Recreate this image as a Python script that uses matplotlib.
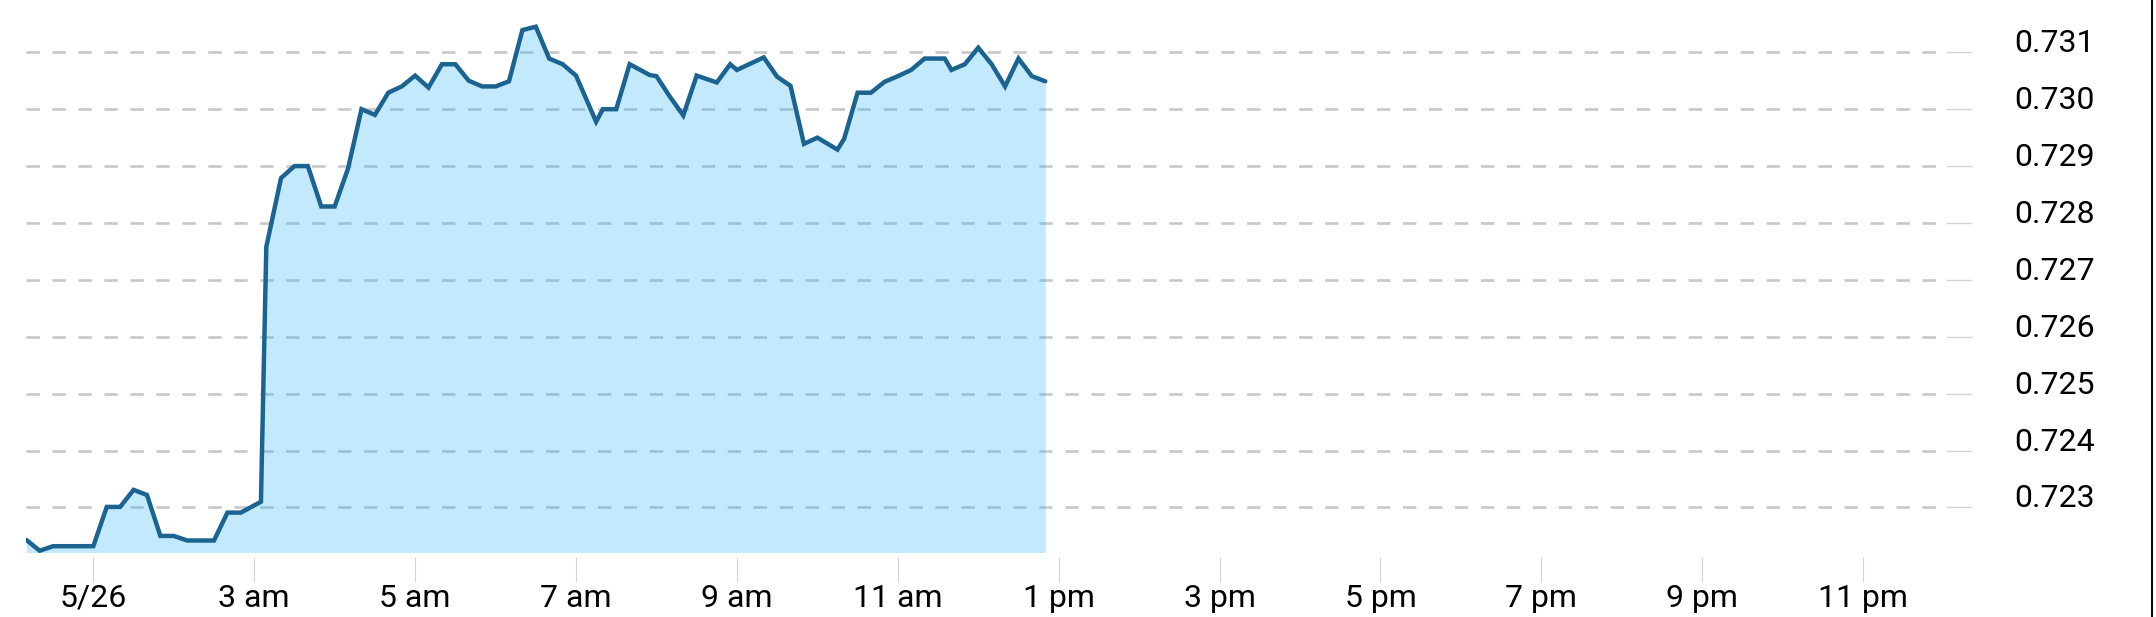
import matplotlib
matplotlib.use("Agg")
import matplotlib.pyplot as plt
from matplotlib.lines import Line2D

plt.rcParams['font.family'] = ['Roboto', 'DejaVu Sans']
plt.rcParams['lines.scale_dashes'] = False

# ---- data -------------------------------------------------------------
times = ["00:10", "00:20", "00:30", "00:40", "00:50", "01:00", "01:10", "01:20",
         "01:30", "01:40", "01:50", "02:00", "02:10", "02:20", "02:30", "02:40",
         "02:50", "03:05", "03:09", "03:20", "03:30", "03:40", "03:50", "04:00",
         "04:10", "04:20", "04:30", "04:40", "04:50", "05:00", "05:10", "05:20",
         "05:30", "05:40", "05:50", "06:00", "06:10", "06:20", "06:30", "06:40",
         "06:50", "07:00", "07:15", "07:20", "07:30", "07:40", "07:55", "08:00",
         "08:10", "08:20", "08:30", "08:45", "08:55", "09:00", "09:20", "09:30",
         "09:40", "09:50", "10:00", "10:15", "10:20", "10:30", "10:40", "10:50",
         "11:00", "11:10", "11:20", "11:35", "11:40", "11:50", "12:00", "12:10",
         "12:20", "12:30", "12:40", "12:50"]
values = [0.72243, 0.72224, 0.72232, 0.72232, 0.72232, 0.72232, 0.72301, 0.72301,
          0.72331, 0.72322, 0.72250, 0.72250, 0.72242, 0.72242, 0.72242, 0.72291,
          0.72291, 0.72310, 0.72758, 0.72879, 0.72900, 0.72900, 0.72829, 0.72829,
          0.72896, 0.73000, 0.72990, 0.73029, 0.73040, 0.73059, 0.73038, 0.73079,
          0.73079, 0.73050, 0.73040, 0.73040, 0.73049, 0.73139, 0.73145, 0.73089,
          0.73079, 0.73059, 0.72978, 0.73000, 0.73000, 0.73079, 0.73060, 0.73058,
          0.73022, 0.72989, 0.73059, 0.73047, 0.73079, 0.73069, 0.73091, 0.73057,
          0.73041, 0.72939, 0.72950, 0.72929, 0.72948, 0.73029, 0.73029, 0.73048,
          0.73058, 0.73069, 0.73089, 0.73089, 0.73069, 0.73079, 0.73108, 0.73079,
          0.73040, 0.73089, 0.73058, 0.73049]
x_tick_hours = [1, 3, 5, 7, 9, 11, 13, 15, 17, 19, 21, 23]
x_tick_labels = ["5/26", "3 am", "5 am", "7 am", "9 am", "11 am", "1 pm",
                 "3 pm", "5 pm", "7 pm", "9 pm", "11 pm"]
y_ticks = [0.723, 0.724, 0.725, 0.726, 0.727, 0.728, 0.729, 0.730, 0.731]
y_tick_labels = ["0.723", "0.724", "0.725", "0.726", "0.727", "0.728",
                 "0.729", "0.730", "0.731"]

def to_hours(s):
    h, m = s.split(":")
    return int(h) + int(m) / 60.0

hours = [to_hours(t) for t in times]

# ---- figure -----------------------------------------------------------
W, H = 2156, 617
fig = plt.figure(figsize=(W / 100, H / 100), dpi=100)
left_px, right_px, top_px, bottom_px = 26.3, 1946.0, 0.0, 552.5
ax = fig.add_axes([left_px / W, 1 - bottom_px / H,
                   (right_px - left_px) / W, (bottom_px - top_px) / H])

ymin, ymax = 0.722209, 0.731919
ax.set_ylim(ymin, ymax)
ax.set_xlim(hours[0], 24.03)

line_color = "#1b6390"
ax.fill_between(hours, values, ymin, color="#29b6f6", alpha=0.28, linewidth=0, zorder=1)
ax.plot(hours, values, color=line_color, linewidth=3.2, solid_joinstyle="miter",
        solid_capstyle="round", zorder=3)

for s in ax.spines.values():
    s.set_visible(False)
ax.spines['bottom'].set_position(('outward', 3.0))

ax.set_axisbelow(True)
ax.yaxis.grid(True, color="#c8c8c8", linestyle=(0, (9.6, 9.1)), linewidth=1.9)
ax.xaxis.grid(False)

ax.set_xticks(x_tick_hours)
ax.set_xticklabels(x_tick_labels)
ax.set_yticks(y_ticks)
ax.set_yticklabels(y_tick_labels)
ax.yaxis.tick_right()

ax.tick_params(axis='x', length=18, width=0.8, color="#d4d4d4", pad=1.5,
               labelsize=23, labelcolor="#000000")
ax.tick_params(axis='y', length=18.7, width=1.0, color="#d4d4d4", pad=30.5,
               labelsize=23, labelcolor="#000000")
for t in ax.yaxis.get_major_ticks():
    t.label2.set_verticalalignment('baseline')

fig.add_artist(Line2D([2151.8 / W, 2151.8 / W], [0, 1], transform=fig.transFigure,
                      color="black", linewidth=1.4))

fig.savefig("out.png", dpi=100, facecolor="white")
